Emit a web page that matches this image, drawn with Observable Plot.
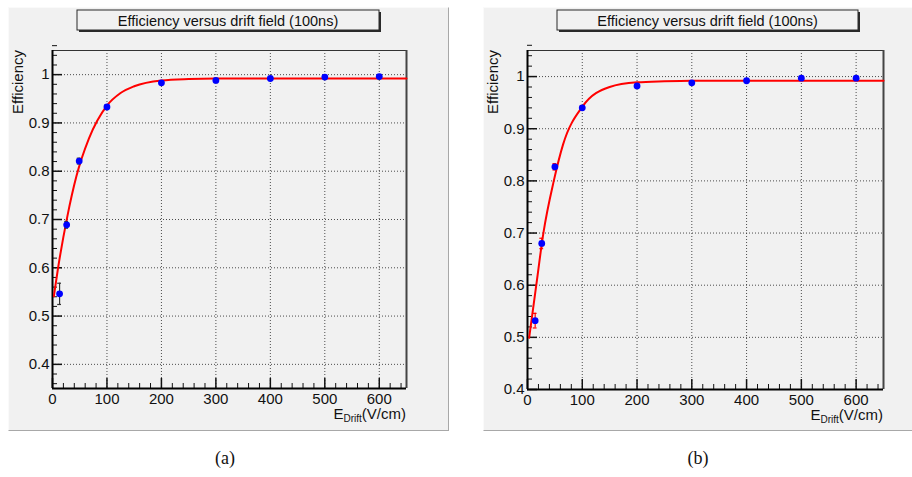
<!DOCTYPE html>
<html>
<head>
<meta charset="utf-8">
<script src="https://cdn.jsdelivr.net/npm/d3@7"></script>
<script src="https://cdn.jsdelivr.net/npm/@observablehq/plot@0.6"></script>
<style>
  html, body { margin: 0; padding: 0; background: #fff; }
  #page { position: relative; width: 912px; height: 477px; overflow: hidden; }
  .pad { position: absolute; top: 7px; height: 424px; box-sizing: border-box;
         border-top: 1px solid #fafafa; border-left: 1px solid #fafafa;
         border-right: 1px solid #a8a8a8; border-bottom: 1px solid #a8a8a8; background: #f1f1f1; }
  .pad svg { display: block; }
  .sub { position: absolute; top: 448px; width: 60px; text-align: center;
         font-family: "Liberation Serif", "DejaVu Serif", serif; font-size: 18px; color: #111; }
</style>
</head>
<body>
<div id="page">
  <div class="pad" id="padA" style="left:8px;width:441px;"></div>
  <div class="pad" id="padB" style="left:483px;width:432px;"></div>
  <div class="sub" style="left:195px;">(a)</div>
  <div class="sub" style="left:668px;">(b)</div>
</div>
<script>
// Shared axis ticks
const xTicks = [0, 100, 200, 300, 400, 500, 600];
const yTicks = [0.4, 0.5, 0.6, 0.7, 0.8, 0.9, 1.0];
const titleText = "Efficiency versus drift field (100ns)";

// (a) measured efficiency vs drift field (V/cm)
const fieldA = [13, 26, 49, 100, 200, 300, 400, 500, 600];
const effA = [0.546, 0.689, 0.821, 0.933, 0.983, 0.988, 0.992, 0.995, 0.996];
const errA = [0.022, 0.007, 0.006, 0.004, 0.002, 0.002, 0.002, 0.002, 0.002];
// (a) fitted curve
const fitFieldA = [2.5, 10, 27, 44, 67, 100, 125, 150, 200, 250, 300, 650];
const fitEffA = [0.541, 0.598, 0.705, 0.790, 0.868, 0.936, 0.962, 0.976, 0.988, 0.991, 0.992, 0.992];

// (b) measured efficiency vs drift field (V/cm)
const fieldB = [14, 26, 50, 100, 200, 300, 400, 500, 600];
const effB = [0.532, 0.680, 0.827, 0.940, 0.982, 0.988, 0.992, 0.997, 0.997];
const errB = [0.014, 0.010, 0.006, 0.004, 0.002, 0.002, 0.002, 0.002, 0.002];
// (b) fitted curve
const fitFieldB = [3, 16, 29, 48, 65, 100, 150, 200, 250, 300, 650];
const fitEffB = [0.499, 0.600, 0.700, 0.800, 0.870, 0.942, 0.980, 0.989, 0.991, 0.992, 0.992];

function panel({field, eff, err, errColor, fitField, fitEff, yDomain, width, height, ml, mt, mr, mb, titleX, titleW}) {
  const points = field.map((x, i) => ({x, y: eff[i], e: err[i]}));
  const fit = fitField.map((x, i) => ({x, y: fitEff[i]}));
  const innerW = width - ml - mr;
  const innerH = height - mt - mb;
  const xMinor = d3.range(0, 651, 20).filter(v => v % 100 !== 0);
  const yMinor = d3.range(Math.round(yDomain[0] * 50), Math.round(yDomain[1] * 50) + 1)
    .map(v => v / 50).filter(v => Math.abs(v * 10 - Math.round(v * 10)) > 1e-6);
  const fmt = d => (d === 1 ? "1" : d.toFixed(1));
  const ink = "#111";

  const svg = Plot.plot({
    width, height,
    marginLeft: ml, marginTop: mt, marginRight: mr, marginBottom: mb,
    style: {background: "transparent", fontFamily: "'Liberation Sans', Arial, sans-serif", fontSize: "15px", color: ink, overflow: "visible"},
    x: {domain: [0, 650], axis: null},
    y: {domain: yDomain, axis: null},
    marks: [
      Plot.gridX(xTicks, {stroke: "#3a3a3a", strokeOpacity: 0.9, strokeDasharray: "1,2"}),
      Plot.gridY(yTicks, {stroke: "#3a3a3a", strokeOpacity: 0.9, strokeDasharray: "1,2"}),
      // ticks drawn inside the frame
      Plot.ruleX(xMinor, {stroke: ink, insetTop: innerH - 5}),
      Plot.ruleX(xTicks, {stroke: ink, strokeWidth: 1.5, insetTop: innerH - 10}),
      Plot.ruleY(yMinor, {stroke: ink, insetRight: innerW - 5}),
      Plot.ruleY(yTicks, {stroke: ink, strokeWidth: 1.5, insetRight: innerW - 10}),
      // frame
      Plot.ruleY([yDomain[1]], {stroke: "#333", strokeWidth: 1}),
      Plot.ruleX([650], {stroke: "#444", strokeWidth: 2}),
      Plot.ruleX([0], {stroke: "#000", strokeWidth: 2}),
      Plot.ruleY([yDomain[0]], {stroke: "#000", strokeWidth: 2}),
      Plot.axisX(xTicks, {tickSize: 0, tickPadding: 5, label: null, fontSize: 15}),
      Plot.axisY(yTicks, {tickSize: 0, tickPadding: 3, tickFormat: fmt, label: null, fontSize: 15}),
      // fit
      Plot.line(fit, {x: "x", y: "y", stroke: "#ff0000", strokeWidth: 2, curve: "monotone-x"}),
      // error bars
      Plot.ruleX(points, {x: "x", y1: d => d.y - d.e, y2: d => d.y + d.e, stroke: errColor, strokeWidth: 1.2}),
      Plot.ruleY(points, {y: d => d.y - d.e, x1: d => d.x - 3.5, x2: d => d.x + 3.5, stroke: errColor, strokeWidth: 1.2}),
      Plot.ruleY(points, {y: d => d.y + d.e, x1: d => d.x - 3.5, x2: d => d.x + 3.5, stroke: errColor, strokeWidth: 1.2}),
      Plot.dot(points, {x: "x", y: "y", r: 3.4, fill: "#0000ff", stroke: "none"})
    ]
  });

  const s = d3.select(svg);
  // title box with drop shadow
  s.append("rect").attr("x", titleX + 2).attr("y", 4).attr("width", titleW).attr("height", 20).attr("fill", "#2a2a2a");
  s.append("rect").attr("x", titleX).attr("y", 2).attr("width", titleW).attr("height", 20)
    .attr("fill", "#f1f1f1").attr("stroke", "#2a2a2a").attr("stroke-width", 1);
  s.append("text").attr("x", titleX + titleW / 2).attr("y", 17.5).attr("text-anchor", "middle")
    .style("font-size", "14.5px").attr("fill", ink).text(titleText);
  // y label
  s.append("text").attr("transform", `translate(${ml - 29},${mt}) rotate(-90)`)
    .attr("text-anchor", "end").style("font-size", "15px").attr("fill", ink).text("Efficiency");
  // x label with subscript
  const xl = s.append("text").attr("x", width - mr).attr("y", height - mb + 31)
    .attr("text-anchor", "end").style("font-size", "15px").attr("fill", ink);
  xl.append("tspan").text("E");
  xl.append("tspan").style("font-size", "10px").attr("dy", 3).text("Drift");
  xl.append("tspan").attr("dy", -3).text("(V/cm)");
  return svg;
}

document.getElementById("padA").appendChild(panel({
  field: fieldA, eff: effA, err: errA, errColor: "#333", fitField: fitFieldA, fitEff: fitEffA,
  yDomain: [0.35, 1.05], width: 439, height: 422, ml: 43, mt: 42, mr: 42, mb: 42, titleX: 68, titleW: 302
}));
document.getElementById("padB").appendChild(panel({
  field: fieldB, eff: effB, err: errB, errColor: "#ff0000", fitField: fitFieldB, fitEff: fitEffB,
  yDomain: [0.4, 1.05], width: 430, height: 422, ml: 43, mt: 42, mr: 31, mb: 41, titleX: 73, titleW: 301
}));
</script>
</body>
</html>
